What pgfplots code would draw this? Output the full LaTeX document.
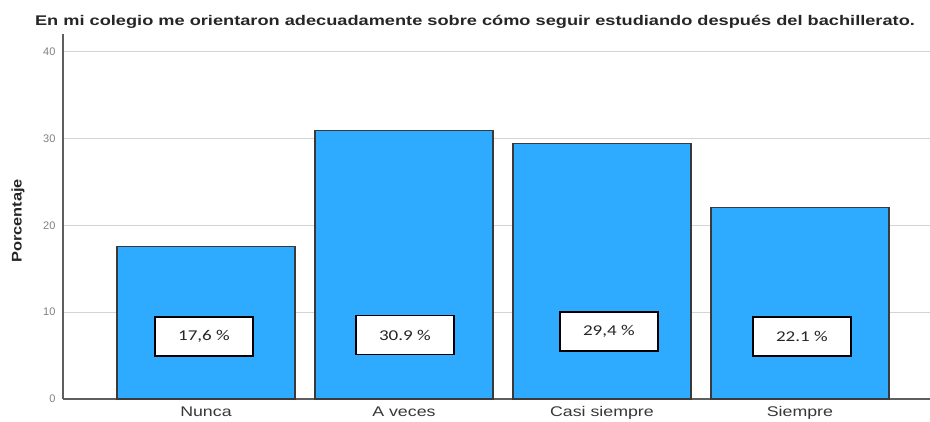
\documentclass[border=0pt]{standalone}
\usepackage{pgfplots}
\pgfplotsset{compat=1.18}
\usepackage{fontspec}
\setmainfont{Liberation Sans}
\newfontfamily\carlito{Carlito}
\definecolor{barblue}{RGB}{46,170,255}
\definecolor{baredge}{RGB}{58,58,58}
\definecolor{gridgray}{RGB}{212,212,212}
\definecolor{axisgray}{RGB}{95,95,95}
\definecolor{ticktext}{RGB}{55,55,55}
\newcommand\sx[1]{\scalebox{1.27}[1]{#1}}
\begin{document}
\begin{tikzpicture}[x=1pt,y=1pt]
\useasboundingbox (0,0) rectangle (930,421);
% title
\node[anchor=base,font=\bfseries\fontsize{14}{14}\selectfont,text=black!85] at (475,395)
  {\scalebox{1.30}[1]{En mi colegio me orientaron adecuadamente sobre cómo seguir estudiando después del bachillerato.}};
% y label
\node[rotate=90,font=\bfseries\fontsize{14}{14}\selectfont,text=black!85] at (18,200) {\scalebox{1.17}[1]{Porcentaje}};
\begin{axis}[
  at={(63pt,22pt)}, anchor=south west,
  scale only axis,
  width=867pt, height=364.6pt,
  xmin=-0.722, xmax=3.657,
  ymin=0, ymax=42,
  xtick=data,
  xticklabels={\sx{Nunca},\sx{A veces},\sx{Casi siempre},\sx{Siempre}},
  ytick={0,10,20,30,40},
  axis x line*=bottom, axis y line*=left,
  axis line style={axisgray,line width=1.7pt,-},
  tick style={draw=none},
  ymajorgrids,
  grid style={gridgray,line width=1.3pt},
  /pgf/number format/assume math mode=true,
  yticklabel style={font=\fontsize{11}{11}\selectfont,text=gray,xshift=-4pt},
  xticklabel style={font=\fontsize{14}{14}\selectfont,text=ticktext,yshift=-4pt},
  clip=false,
]
\addplot[ybar, bar width=178pt, fill=barblue, draw=baredge, line width=1.3pt]
  coordinates {(0,17.6) (1,30.9) (2,29.4) (3,22.1)};
\tikzset{vbox/.style={draw=black,line width=1.3pt,fill=white,minimum width=98pt,minimum height=39pt,
  font=\carlito\fontsize{15}{15}\selectfont,text=black!85}}
\node[vbox] at (axis cs:-0.01,7.2) {\sx{17,6 \%}};
\node[vbox] at (axis cs:1.005,7.37) {\sx{30.9 \%}};
\node[vbox] at (axis cs:2.035,7.78) {\sx{29,4 \%}};
\node[vbox] at (axis cs:3.01,7.2) {\sx{22.1 \%}};
\end{axis}
\end{tikzpicture}
\end{document}
